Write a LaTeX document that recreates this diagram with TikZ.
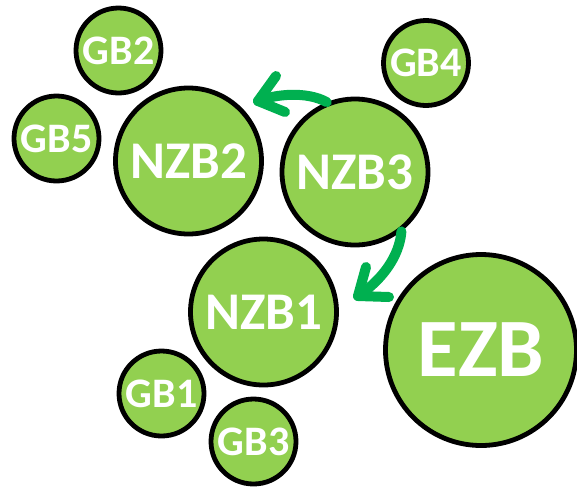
\documentclass[tikz,border=0pt]{standalone}
\usepackage{fontspec}
\setmainfont{Carlito}
\definecolor{bubble}{HTML}{92D050}
\definecolor{arrowgreen}{HTML}{00B050}
\tikzset{
  bub/.style={circle, draw=black, line width=4.8pt, fill=bubble, inner sep=0pt,
    text=white, font=\bfseries},
  small/.style={bub, minimum size=85pt, font=\bfseries\fontsize{42}{42}\selectfont},
  mid/.style={bub, minimum size=146pt, font=\bfseries\fontsize{53}{53}\selectfont},
  big/.style={bub, minimum size=191pt, font=\bfseries\fontsize{83}{83}\selectfont},
  flow/.style={draw=arrowgreen, line width=10pt, line cap=round, line join=round}
}
\begin{document}
\begin{tikzpicture}[x=1pt,y=-1pt]
\useasboundingbox (0,0) rectangle (577,488);
\node[small] (gb2) at (118.5,50.5) {GB2};
\node[small] (gb5) at (56.5,138.5) {GB5};
\node[small] (gb4) at (426,63) {GB4};
\node[small] (gb1) at (161.5,393.5) {GB1};
\node[small] (gb3) at (253.5,441.5) {GB3};
\node[mid] (nzb2) at (188.5,161) {NZB2};
\node[mid] (nzb3) at (355,172) {NZB3};
\node[mid] (nzb1) at (263.5,312) {NZB1};
\node[big] (ezb) at (481,350) {EZB};
% arrow NZB3 -> NZB2
\coordinate (t1) at (258,101);
\coordinate (a1) at (276,76);
\coordinate (b1) at (285,112);
\draw[flow] (nzb3.112) .. controls +(-20,-11) and (276,94) .. (t1);
\draw[flow] (a1) -- (t1) -- (b1);
% arrow NZB3 -> NZB1
\coordinate (t2) at (358,296);
\coordinate (a2) at (366,267);
\coordinate (b2) at (389,297);
\draw[flow] (nzb3.-52) .. controls +(-2,25) and (382,280) .. (t2);
\draw[flow] (a2) -- (t2) -- (b2);
\end{tikzpicture}
\end{document}
